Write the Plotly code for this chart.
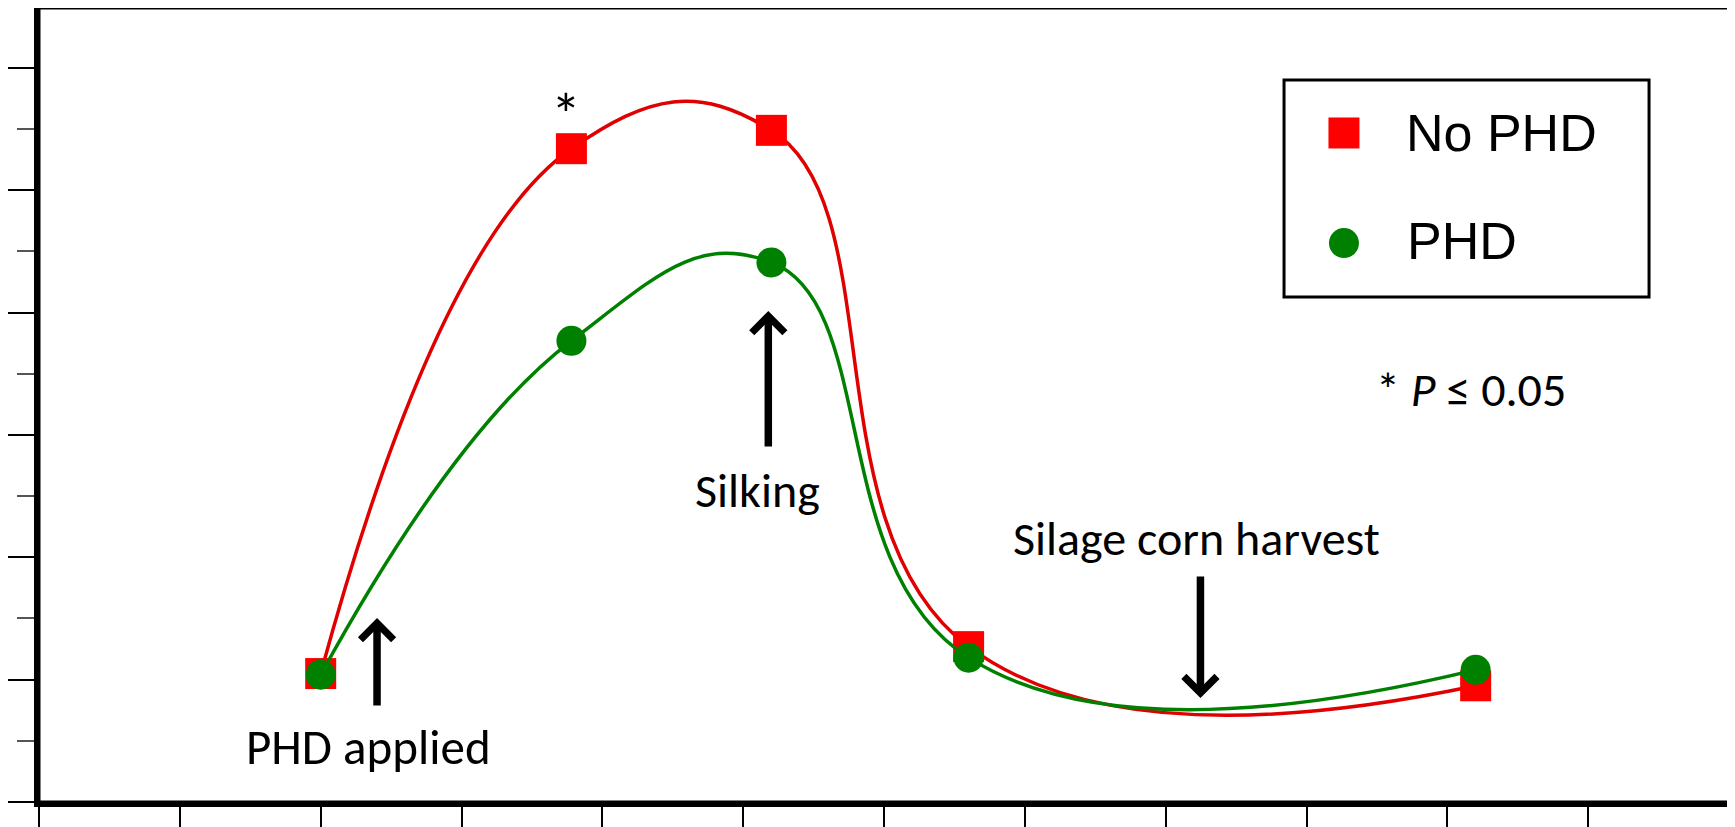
import plotly.graph_objects as go

# sampling times (arbitrary units, majors at 0..6)
x_vals = [1.0, 1.89, 2.6, 3.3, 5.1]

# series values (y axis majors at 0..6, no labels in the original)
no_phd = [1.05, 5.34, 5.49, 1.27, 0.95]
phd = [1.04, 3.77, 4.41, 1.18, 1.08]

series_names = ["No PHD", "PHD"]

label_font = "Carlito, Lato, sans-serif"
legend_font = "Liberation Sans, Arial, sans-serif"

fig = go.Figure()

fig.add_trace(go.Scatter(
    x=x_vals, y=no_phd, name=series_names[0], mode="lines+markers",
    line=dict(color="#e00000", width=3.5, shape="spline", smoothing=1.3),
    marker=dict(symbol="square", size=31, color="#ff0000"),
    showlegend=False,
))
fig.add_trace(go.Scatter(
    x=x_vals, y=phd, name=series_names[1], mode="lines+markers",
    line=dict(color="#008000", width=3.5, shape="spline", smoothing=1.3),
    marker=dict(symbol="circle", size=30, color="#008000"),
    showlegend=False,
))

# text labels and arrows
annotations = [
    dict(x=1.87, y=5.62, text="*", showarrow=False, font=dict(size=60)),
    dict(x=1.17, y=0.45, text="PHD applied", showarrow=False, font=dict(size=49)),
    dict(x=2.55, y=2.55, text="Silking", showarrow=False, font=dict(size=48)),
    dict(x=4.11, y=2.15, text="Silage corn harvest", showarrow=False, font=dict(size=48)),
    dict(x=4.74, y=3.37, text="* <i>P</i> ≤ 0.05", showarrow=False, xanchor="left",
         font=dict(size=48)),
]
# (head x, head y, tail x, tail y)
arrows = [
    (1.200, 1.504, 1.200, 0.777),
    (2.589, 4.013, 2.589, 2.894),
    (4.123, 0.850, 4.123, 1.855),
]
for hx, hy, tx, ty in arrows:
    annotations.append(dict(
        x=hx, y=hy, ax=tx, ay=ty, xref="x", yref="y", axref="x", ayref="y",
        text="", showarrow=True, arrowhead=4, arrowsize=0.85, arrowwidth=7.5,
        arrowcolor="black", standoff=0,
    ))

# hand-drawn legend: big markers like the original
annotations.append(dict(x=0.806, y=0.8426, xref="paper", yref="paper", text=series_names[0],
                        showarrow=False, xanchor="left", yanchor="middle",
                        font=dict(family=legend_font, size=52, color="black")))
annotations.append(dict(x=0.807, y=0.7065, xref="paper", yref="paper", text=series_names[1],
                        showarrow=False, xanchor="left", yanchor="middle",
                        font=dict(family=legend_font, size=52, color="black")))

shapes = [
    # frame
    dict(type="rect", xref="paper", yref="paper", x0=0, y0=0, x1=1, y1=1,
         line=dict(color="black", width=3)),
    # legend box
    dict(type="rect", xref="paper", yref="paper", x0=0.7354, y0=0.636, x1=0.951, y1=0.9093,
         line=dict(color="black", width=3), fillcolor="white", layer="below"),
    dict(type="rect", xref="paper", yref="paper", xsizemode="pixel", ysizemode="pixel",
         xanchor=0.7708, yanchor=0.8426, x0=-15.5, x1=15.5, y0=-15.5, y1=15.5,
         fillcolor="#ff0000", line=dict(width=0)),
    dict(type="circle", xref="paper", yref="paper", xsizemode="pixel", ysizemode="pixel",
         xanchor=0.7708, yanchor=0.704, x0=-15, x1=15, y0=-15, y1=15,
         fillcolor="#008000", line=dict(width=0)),
]

# the page body keeps its default 8px margin, so the figure is sized to fit the window
fig.update_layout(
    width=1727, height=819,
    margin=dict(l=31, r=3, t=0, b=25),
    paper_bgcolor="white", plot_bgcolor="white",
    font=dict(family=label_font, color="black"),
    annotations=annotations,
    shapes=shapes,
    xaxis=dict(
        range=[0, 6.01], showgrid=False, zeroline=False, showticklabels=False,
        showline=True, linecolor="black", linewidth=5,
        ticks="outside", tick0=0, dtick=1, ticklen=25, tickwidth=1.5, tickcolor="black",
        minor=dict(ticks="outside", dtick=0.5, ticklen=25, tickwidth=1.5, tickcolor="black"),
    ),
    yaxis=dict(
        range=[0, 6.49], showgrid=False, zeroline=False, showticklabels=False,
        showline=True, linecolor="black", linewidth=5,
        ticks="outside", tick0=0, dtick=1, ticklen=30, tickwidth=2, tickcolor="black",
        minor=dict(ticks="outside", dtick=0.5, ticklen=17, tickwidth=1.5, tickcolor="#555555"),
    ),
)

fig.write_html("out.html")
